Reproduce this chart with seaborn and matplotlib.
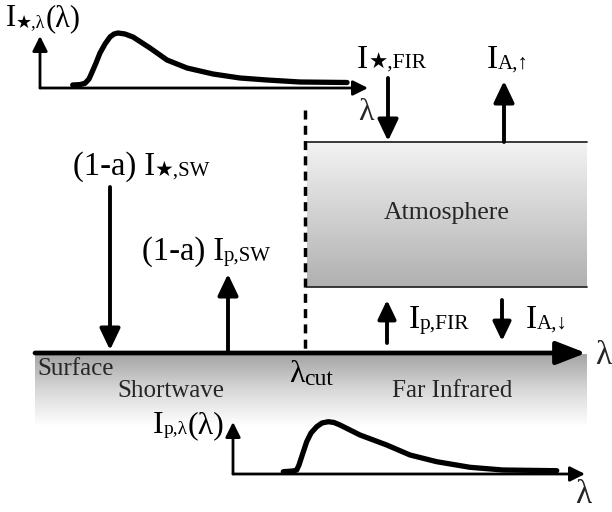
import numpy as np
import pandas as pd
import seaborn as sns
import matplotlib
matplotlib.use("Agg")
import matplotlib.pyplot as plt
from matplotlib.colors import LinearSegmentedColormap

# ---- data (spectrum sketches, arbitrary units) ----
star_wavelength = [32.7, 40, 45, 49, 51.7, 56, 60, 65, 70, 74, 78, 85, 93, 110, 127, 147, 173, 200, 227, 260, 307]
star_intensity = [3, 3.4, 4.7, 9, 15, 25, 35, 44, 51, 54, 55, 54, 51, 40, 28, 20, 14, 10, 8, 6, 5.5]

planet_wavelength = [50.3, 60, 63.7, 66, 68.7, 73.7, 78, 83.7, 89, 95.3, 101, 107, 127, 153.7, 177, 203.7, 237, 270, 323.7]
planet_intensity = [2.3, 3, 4, 9, 17.3, 32.3, 41, 47.3, 51, 52.3, 51.5, 49, 39, 29, 19, 12.3, 6.7, 4, 3.3]

sns.set_theme(style="white")
plt.rcParams["font.family"] = ["Liberation Serif", "DejaVu Sans"]

fig = plt.figure(figsize=(6.12, 5.12), dpi=100)
ax = fig.add_axes([0, 0, 1, 1])
ax.axis("off")

# gradients
grad = np.linspace(0, 1, 256).reshape(-1, 1)
cmap_atm = LinearSegmentedColormap.from_list("atm", ["#f3f3f3", "#b0b0b0"])
ax.imshow(grad, extent=(307, 587, 287, 142), cmap=cmap_atm, aspect="auto",
          interpolation="bilinear", zorder=0)
cmap_sur = LinearSegmentedColormap.from_list("sur", ["#a4a4a4", "#d8d8d8", "#ffffff"])
ax.imshow(grad, extent=(35, 587, 426, 354), cmap=cmap_sur, aspect="auto",
          interpolation="bilinear", zorder=0)
ax.set_xlim(0, 612)
ax.set_ylim(512, 0)

# atmosphere borders
ax.plot([307, 587], [142, 142], color="#2a2a2a", lw=1.3, zorder=2)
ax.plot([307, 587], [287, 287], color="#2a2a2a", lw=1.3, zorder=2)
# cut-off wavelength dashed line
ax.plot([305, 305], [110, 352], color="black", lw=2.5, ls=(0, (2.6, 1.8)), zorder=3)


def arrow(a, x0, y0, x1, y1, lw=2.8, hl=1.3, hw=0.62):
    a.annotate("", xy=(x1, y1), xytext=(x0, y0),
               arrowprops=dict(arrowstyle=f"-|>,head_length={hl},head_width={hw}",
                               lw=lw, color="black", shrinkA=0, shrinkB=0,
                               mutation_scale=10, clip_on=False),
               zorder=5, annotation_clip=False)


# surface axis
arrow(ax, 35, 353, 586, 353, lw=3.4, hl=1.8, hw=0.7)

# flux arrows
arrow(ax, 110, 187, 110, 350)   # (1-a) I*,SW down
arrow(ax, 228, 352, 228, 274)   # (1-a) Ip,SW up
arrow(ax, 388, 78, 388, 141)    # I*,FIR down
arrow(ax, 504, 142, 504, 81)    # IA,up
arrow(ax, 387, 343, 387, 300, hl=1.15, hw=0.55)  # Ip,FIR up
arrow(ax, 502, 300, 502, 341, hl=1.15, hw=0.55)  # IA,down

# text helper
renderer = fig.canvas.get_renderer()


def rich(x, y, parts, ha="left"):
    texts = []
    cx = x
    for s, size, dy in parts:
        t = ax.text(cx, y + dy, s, fontsize=size, ha="left", va="baseline",
                    color="black", zorder=6)
        w = t.get_window_extent(renderer).width
        texts.append(t)
        cx += w
    total = cx - x
    shift = {"left": 0, "center": total / 2, "right": total}[ha]
    for t in texts:
        px, py = t.get_position()
        t.set_position((px - shift, py))


rich(6, 26, [("I", 22, 0), ("★,λ", 13, 1), ("(λ)", 22, 0)])
rich(357, 68, [("I", 24, 0), ("★,FIR", 15.5, 1)])
rich(487, 68, [("I", 24, 0), ("A,↑", 15, 1)])
rich(73, 175, [("(1-a) I", 23.5, 0), ("★,SW", 15, 1)])
rich(142, 260, [("(1-a) I", 23.5, 0), ("p,SW", 15, 1)])
rich(409, 328, [("I", 24, 0), ("p,FIR", 15.5, 1)])
rich(526, 328, [("I", 24, 0), ("A,↓", 15, 1)])
rich(224, 433, [("I", 23, 0), ("p,λ", 14, 1), ("(λ)", 23, 0)], ha="right")
rich(289, 382, [("λ", 23, 0), ("cut", 17, 3)])

ax.text(366, 112, "λ", fontsize=23, ha="center", va="center")
ax.text(603, 356, "λ", fontsize=24, ha="center", va="center")
ax.text(583, 495, "λ", fontsize=24, ha="center", va="center")

ax.text(447, 213, "Atmosphere", fontsize=18.5, ha="center", va="center")
ax.text(37, 375, "Surface", fontsize=18, ha="left", va="baseline")
ax.text(117, 397, "Shortwave", fontsize=18, ha="left", va="baseline")
ax.text(392, 397, "Far Infrared", fontsize=18, ha="left", va="baseline")

# stellar spectrum inset
axt = fig.add_axes([40 / 612, 1 - 88 / 512, 340 / 612, 60 / 512])
axt.set_xlim(0, 340)
axt.set_ylim(0, 60)
axt.axis("off")
sns.lineplot(x=star_wavelength, y=star_intensity, ax=axt, color="black", lw=3.8,
             sort=False, estimator=None)
arrow(axt, 0, 0, 328, 0, lw=2.0, hl=0.9, hw=0.45)
arrow(axt, 0, 0, 0, 52, lw=2.0, hl=0.9, hw=0.45)

# planetary spectrum inset
axb = fig.add_axes([233 / 612, (512 - 474) / 512, 360 / 612, 60 / 512])
axb.set_xlim(0, 360)
axb.set_ylim(0, 60)
axb.axis("off")
sns.lineplot(x=planet_wavelength, y=planet_intensity, ax=axb, color="black", lw=3.8,
             sort=False, estimator=None)
arrow(axb, 0, 0, 352, 0, lw=2.0, hl=0.9, hw=0.45)
arrow(axb, 0, 0, 0, 52, lw=2.0, hl=0.9, hw=0.45)

fig.savefig("out.png", dpi=100)
